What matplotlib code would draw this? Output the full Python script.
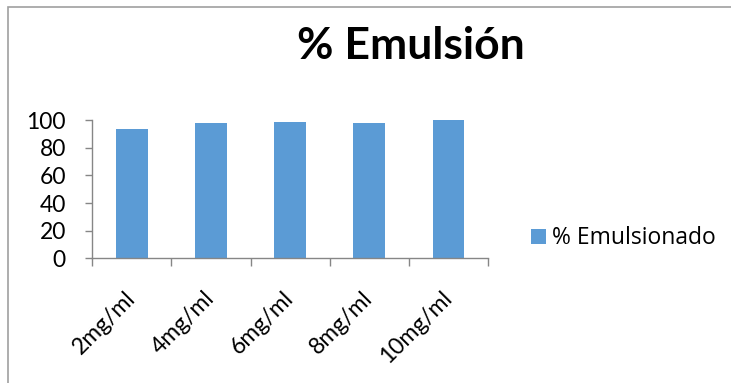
import matplotlib
matplotlib.use("Agg")
import matplotlib.pyplot as plt
from matplotlib.patches import Rectangle, Patch
import numpy as np

categories = ["2mg/ml", "4mg/ml", "6mg/ml", "8mg/ml", "10mg/ml"]
emulsionado = [93.5, 97.8, 99.0, 98.3, 100.0]
yticks = [0, 20, 40, 60, 80, 100]

FONT = ["Lato", "DejaVu Sans"]
LEGEND_FONT = ["Open Sans", "DejaVu Sans"]
BAR = "#5B9BD5"
AXIS = "#868686"

fig = plt.figure(figsize=(7.31, 3.83), dpi=100)
ax = fig.add_axes([0.1263, 0.3256, 0.6676 - 0.1263, 0.686 - 0.3256])

x = np.arange(len(categories))
ax.bar(x, emulsionado, width=0.4, color=BAR, zorder=2)

ax.set_xlim(-0.5, len(categories) - 0.5)
ax.set_ylim(0, 100)
ax.set_yticks(yticks)
ax.set_yticklabels([str(v) for v in yticks], fontsize=16.5, family=FONT)
ax.tick_params(axis="y", length=5, width=1, color=AXIS, pad=14)

ax.set_xticks(x)
ax.set_xticklabels(categories, rotation=45, ha="right", va="center",
                   rotation_mode="anchor", fontsize=16.5, family=FONT)
ax.tick_params(axis="x", which="major", length=0, pad=26)
ax.set_xticks(np.arange(-0.5, len(categories)), minor=True)
ax.tick_params(axis="x", which="minor", length=6, width=1, color=AXIS)

for side in ("top", "right"):
    ax.spines[side].set_visible(False)
for side in ("left", "bottom"):
    ax.spines[side].set_color(AXIS)
    ax.spines[side].set_linewidth(1)

fig.text(0.562, 0.88, "% Emulsión", ha="center", va="center",
         fontsize=32, fontweight="bold", family=FONT)

handle = Patch(facecolor=BAR, edgecolor="none")
fig.legend([handle], ["% Emulsionado"], loc="center left",
           bbox_to_anchor=(0.698, 0.378), frameon=False,
           prop={"family": LEGEND_FONT, "size": 16.5}, handlelength=0.64,
           handleheight=0.64, handletextpad=0.3)

# chart area outline
fig.patches.append(Rectangle((8 / 731, -0.05), 1.1, 1 - 7 / 383 + 0.05,
                             transform=fig.transFigure, fill=False,
                             edgecolor="#A0A0A0", linewidth=1.2))

fig.savefig("out.png", dpi=100)
